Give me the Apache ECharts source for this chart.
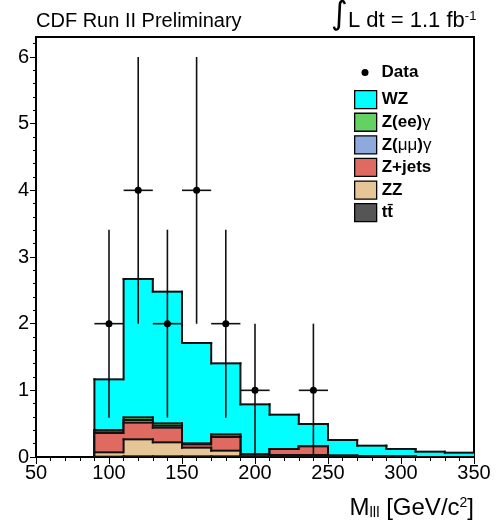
<!DOCTYPE html>
<html><head><meta charset="utf-8">
<script src="https://cdn.jsdelivr.net/npm/echarts@6/dist/echarts.min.js"></script>
<style>html,body{margin:0;padding:0;background:#fff}#c{width:504px;height:525px}</style>
</head><body><div id="c"></div>
<script>
// ---- data ----
const binEdges = [90,110,130,150,170,190,210,230,250,270,290,310,330,350];
// components, bottom of stack first
const ttbar = [0.005,0.01,0.01,0.01,0.01,0.01,0.01,0.01,0.01,0.005,0.005,0,0];
const zz    = [0.065,0.255,0.21,0.13,0.085,0.025,0.02,0.02,0.005,0,0,0,0];
const zjets = [0.29,0.25,0.22,0.05,0.205,0.005,0.09,0.13,0.005,0.005,0,0,0];
const zmmg  = [0.01,0.04,0.03,0.005,0.005,0,0,0,0,0,0,0,0];
const zeeg  = [0.035,0.04,0.035,0.01,0.035,0,0,0,0,0,0,0,0];
const wz    = [0.76,2.075,1.975,1.505,1.065,0.75,0.515,0.335,0.235,0.16,0.115,0.08,0.065];
const dataX   = [100,120,140,160,180,200,240];
const dataY   = [2,4,2,4,2,1,1];
const dataErr = [1.41,2,1.41,2,1.41,1,1];
const xTicks = [50,100,150,200,250,300,350];
const yTicks = [0,1,2,3,4,5,6];
const yMinorTicks = [];
for (let v = 0; v <= 6.3001; v += 0.2) { const r = Math.round(v*10)/10; if (!yTicks.includes(r)) yMinorTicks.push(r); }

const compNames  = ['tt\u0304','ZZ','Z+jets','Z(\u03bc\u03bc)\u03b3','Z(ee)\u03b3','WZ'];
const compColors = ['#555555','#e6c696','#df6a62','#8ea9dd','#63d263','#00ffff'];
const comps = [ttbar, zz, zjets, zmmg, zeeg, wz];

const FONT = '"Liberation Sans", Arial, Helvetica, sans-serif';

// cumulative levels
const levels = [];
let run = comps[0].map(() => 0);
comps.forEach((c) => { run = run.map((v, i) => v + c[i]); levels.push(run.slice()); });

const lastEdge = binEdges[binEdges.length - 1];
function histRender(params, api) {
  const lo = api.value(0), hi = api.value(1), top = api.value(2), prev = api.value(3);
  const p0 = api.coord([lo, 0]), p1 = api.coord([hi, top]), pp = api.coord([lo, prev]);
  const color = api.visual('color');
  const ext = hi < lastEdge ? 0.8 : 0;
  return { type: 'group', children: [
    { type: 'rect', shape: { x: p0[0], y: p1[1], width: p1[0]-p0[0]+ext, height: p0[1]-p1[1] }, style: { fill: color } },
    { type: 'line', shape: { x1: p0[0], y1: p1[1], x2: p1[0], y2: p1[1] }, style: { stroke: '#111', lineWidth: 2, lineCap: 'square' } },
    { type: 'line', shape: { x1: p0[0], y1: pp[1], x2: p0[0], y2: p1[1] }, style: { stroke: '#111', lineWidth: 2, lineCap: 'square' } }
  ]};
}
function dataRender(params, api) {
  const x = api.value(0), y = api.value(1), e = api.value(2), hw = api.value(3);
  const c = api.coord([x, y]);
  const lo = api.coord([x, Math.max(0, y - e)]), hi = api.coord([x, y + e]);
  const l = api.coord([x - hw, y]), r = api.coord([x + hw, y]);
  return { type: 'group', children: [
    { type: 'line', shape: { x1: c[0], y1: lo[1], x2: c[0], y2: hi[1] }, style: { stroke: '#111', lineWidth: 1.6 } },
    { type: 'line', shape: { x1: l[0], y1: c[1], x2: r[0], y2: c[1] }, style: { stroke: '#111', lineWidth: 1.6 } },
    { type: 'circle', shape: { cx: c[0], cy: c[1], r: 3.5 }, style: { fill: '#000' } }
  ]};
}

const series = [];
for (let k = levels.length - 1; k >= 0; k--) {
  const lv = levels[k];
  const d = lv.map((v, i) => [binEdges[i], binEdges[i+1], v, i > 0 ? lv[i-1] : 0]);
  series.push({ type: 'custom', name: compNames[k], renderItem: histRender, data: d,
    itemStyle: { color: compColors[k] }, clip: true, encode: { x: [0,1], y: 2 }, z: 2 });
}
const dpts = dataX.map((x, i) => {
  let hw = 10;
  for (let j = 0; j < binEdges.length - 1; j++) if (x >= binEdges[j] && x < binEdges[j+1]) hw = (binEdges[j+1]-binEdges[j])/2;
  return [x, dataY[i], dataErr[i], hw];
});
series.push({ type: 'custom', name: 'Data', renderItem: dataRender, data: dpts,
  itemStyle: { color: '#000' }, clip: true, encode: { x: 0, y: 1 }, z: 5 });

function legFmt(name) {
  const parts = name.split(/(\u03b3|\u03bc\u03bc)/).filter(s => s.length);
  return parts.map(p => (p === '\u03b3' || p === '\u03bc\u03bc') ? '{g|' + p + '}' : '{b|' + p + '}').join('');
}
const legendRich = {
  b: { fontFamily: FONT, fontWeight: 'bold', fontSize: 17, color: '#000' },
  g: { fontFamily: FONT, fontWeight: 'normal', fontSize: 17, color: '#000' }
};

const chart = echarts.init(document.getElementById('c'), null, { renderer: 'canvas' });
chart.setOption({
  animation: false,
  backgroundColor: '#fff',
  grid: { left: 36, right: 30, top: 37, bottom: 68, show: true, borderColor: '#000', borderWidth: 2, backgroundColor: 'transparent' },
  xAxis: {
    type: 'value', min: 50, max: 350, interval: 50,
    axisLine: { show: true, onZero: false, lineStyle: { color: '#000', width: 2 } },
    axisTick: { show: true, length: 7, lineStyle: { color: '#000', width: 1 } },
    minorTick: { show: true, splitNumber: 5, length: 4, lineStyle: { color: '#000', width: 1 } },
    axisLabel: { color: '#000', fontSize: 20, fontFamily: FONT, margin: 6,
      customValues: xTicks },
    splitLine: { show: false }
  },
  yAxis: [{
    type: 'value', min: 0, max: 6.3, position: 'left',
    axisLine: { show: true, lineStyle: { color: '#000', width: 2 } },
    axisTick: { show: true, length: 6, customValues: yTicks, lineStyle: { color: '#000', width: 1 } },
    axisLabel: { color: '#000', fontSize: 20, fontFamily: FONT, margin: 7, customValues: yTicks },
    splitLine: { show: false }
  }, {
    type: 'value', min: 0, max: 6.3, position: 'left',
    axisLine: { show: false },
    axisTick: { show: true, length: 3, customValues: yMinorTicks, lineStyle: { color: '#000', width: 1 } },
    axisLabel: { show: false },
    splitLine: { show: false }
  }],
  legend: [{
    data: [{ name: 'Data', icon: 'circle' }],
    orient: 'vertical', left: 361.5, top: 64, padding: 0,
    itemWidth: 7, itemHeight: 7,
    formatter: () => '{d|Data}',
    textStyle: { rich: { d: { fontFamily: FONT, fontWeight: 'bold', fontSize: 17, color: '#000', padding: [0,0,0,8] } } },
    selectedMode: false
  }, {
    data: ['WZ','Z(ee)\u03b3','Z(\u03bc\u03bc)\u03b3','Z+jets','ZZ','tt\u0304'].map(n => ({ name: n, icon: 'rect' })),
    orient: 'vertical', left: 354, top: 90, padding: 0,
    itemWidth: 22, itemHeight: 18, itemGap: 3.3,
    itemStyle: { borderColor: '#000', borderWidth: 1.3 },
    formatter: legFmt,
    textStyle: { rich: legendRich },
    selectedMode: false
  }],
  graphic: [
    { type: 'text', x: 36, y: 21, style: { text: 'CDF Run II Preliminary', font: '20px ' + FONT, fill: '#000', verticalAlign: 'middle' } },
    { type: 'text', x: 331, y: 16, style: { text: '\u222b', font: '32px "DejaVu Sans"', fill: '#000', verticalAlign: 'middle' } },
    { type: 'text', x: 348, y: 21, style: { text: '{m|L dt = 1.1 fb}{s|-1}', verticalAlign: 'middle',
      rich: { m: { fontFamily: FONT, fontSize: 22, color: '#000' },
              s: { fontFamily: FONT, fontSize: 13, color: '#000', verticalAlign: 'top' } } } },
    { type: 'text', x: 474, y: 508, style: { text: '{m|M}{sub|lll}{m| [GeV/c}{sup|2}{m|]}', align: 'right', verticalAlign: 'middle',
      rich: { m: { fontFamily: FONT, fontSize: 24, color: '#000', lineHeight: 24 },
              sub: { fontFamily: FONT, fontSize: 15, color: '#000', lineHeight: 15, verticalAlign: 'bottom', padding: [16,0,0,0] },
              sup: { fontFamily: FONT, fontSize: 14, color: '#000', lineHeight: 14, verticalAlign: 'top', padding: [0,0,0,0] } } } }
  ],
  series: series
});
</script></body></html>
